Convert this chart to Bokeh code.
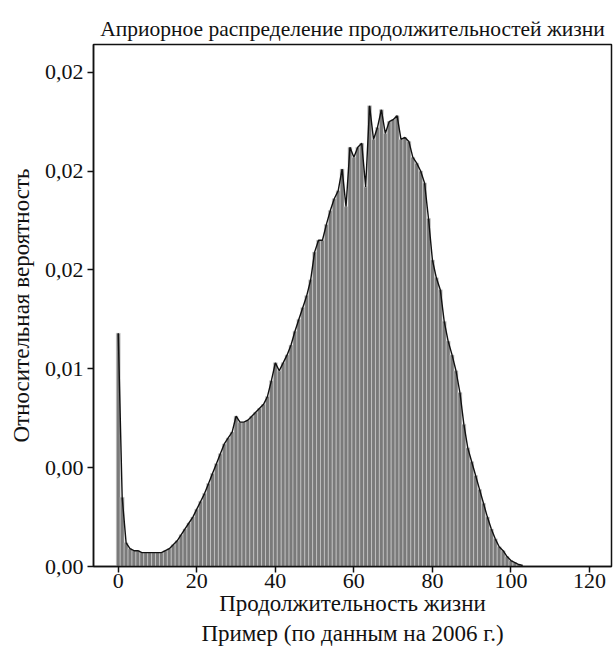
from bokeh.plotting import figure
from bokeh.embed import file_html
from bokeh.resources import INLINE
from bokeh.models import FixedTicker, Range1d

title_text = "Априорное распределение продолжительностей жизни"
x_label = "Продолжительность жизни\nПример (по данным на 2006 г.)"
y_label = "Относительная вероятность"

ages = list(range(0, 104))
probs = [
    0.0118, 0.0035, 0.0012, 0.0009, 0.0008, 0.0008, 0.0007, 0.0007, 0.0007, 0.0007,
    0.0007, 0.0007, 0.0008, 0.0009, 0.0011, 0.0013, 0.0016, 0.0019, 0.0022, 0.0025,
    0.0029, 0.0033, 0.0037, 0.0042, 0.0047, 0.0052, 0.0057, 0.0062, 0.0065, 0.0068,
    0.0076, 0.0073, 0.0073, 0.0074, 0.0076, 0.0078, 0.0080, 0.0082, 0.0086, 0.0094,
    0.0103, 0.0099, 0.0103, 0.0107, 0.0112, 0.0119, 0.0125, 0.0131, 0.0137, 0.0145,
    0.0159, 0.0165, 0.0165, 0.0173, 0.0180, 0.0186, 0.0190, 0.0201, 0.0182, 0.0212,
    0.0207, 0.0212, 0.0214, 0.0192, 0.0233, 0.0216, 0.0222, 0.0231, 0.0219, 0.0225,
    0.0226, 0.0228, 0.0216, 0.0217, 0.0215, 0.0207, 0.0204, 0.0200, 0.0194, 0.0176,
    0.0155, 0.0146, 0.0140, 0.0124, 0.0114, 0.0107, 0.0099, 0.0088, 0.0072, 0.0060,
    0.0053, 0.0046, 0.0039, 0.0032, 0.0025, 0.0019, 0.0014, 0.0010, 0.0008, 0.0005,
    0.0003, 0.0002, 0.0001, 0.00005,
]

x_ticks = [0, 20, 40, 60, 80, 100, 120]
y_ticks = [0.0, 0.005, 0.010, 0.015, 0.020, 0.025]
y_tick_labels = ["0,00", "0,00", "0,01", "0,02", "0,02", "0,02"]

FONT = "Liberation Serif"

p = figure(width=616, height=648, output_backend="svg", toolbar_location=None,
           x_range=Range1d(-6.3, 125.6), y_range=Range1d(0, 0.0264),
           min_border_left=93, min_border_right=5, min_border_top=44, min_border_bottom=81)

p.title.text = title_text
p.title.align = "center"
p.title.text_font = FONT
p.title.text_font_style = "normal"
p.title.text_font_size = "21.5px"
p.title.text_color = "#111111"
p.title.standoff = 7

p.vbar(x=ages, top=probs, width=1.0, bottom=0,
       fill_color="#7a7a7a", line_color="#d2d2d2", line_width=0.6)
p.line(x=ages, y=probs, line_color="#111111", line_width=1.4)

p.xgrid.visible = False
p.ygrid.visible = False
p.outline_line_color = "#111111"
p.outline_line_width = 1.5
p.background_fill_color = "white"

for ax in (p.xaxis[0], p.yaxis[0]):
    ax.axis_line_color = "#111111"
    ax.axis_line_width = 1.5
    ax.major_tick_line_color = "#111111"
    ax.major_tick_line_width = 1.5
    ax.major_tick_in = 0
    ax.major_tick_out = 6
    ax.minor_tick_line_color = None
    ax.major_label_text_font = FONT
    ax.major_label_text_font_size = "22px"
    ax.major_label_text_color = "#111111"
    ax.axis_label_text_font = FONT
    ax.axis_label_text_font_size = "23px"
    ax.axis_label_text_font_style = "normal"
    ax.axis_label_text_color = "#111111"

p.xaxis[0].ticker = FixedTicker(ticks=x_ticks)
p.yaxis[0].ticker = FixedTicker(ticks=y_ticks)
p.yaxis[0].major_label_overrides = {t: l for t, l in zip(y_ticks, y_tick_labels)}
p.xaxis[0].axis_label = x_label
p.yaxis[0].axis_label = y_label
p.xaxis[0].axis_label_standoff = 0
p.yaxis[0].axis_label_standoff = 8
p.xaxis[0].major_label_standoff = 1
p.yaxis[0].major_label_standoff = 4

open("out.html", "w").write(file_html(p, INLINE))
